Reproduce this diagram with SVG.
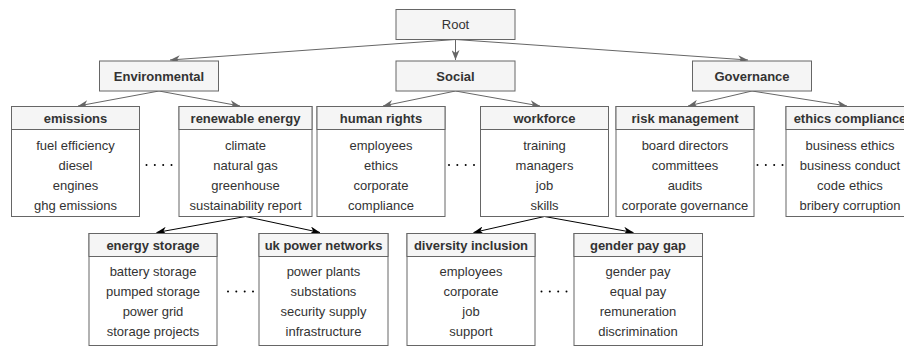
<svg xmlns="http://www.w3.org/2000/svg" width="904" height="347" viewBox="0 0 904 347">
<style>
.hd{fill:#f5f5f5;stroke:#666;stroke-width:1}
.bd{fill:#fff;stroke:#666;stroke-width:1}
text{font-family:"Liberation Sans",Arial,sans-serif;font-size:13px;fill:#333;text-anchor:middle}
.b{font-weight:bold}
.g{stroke:#666;stroke-width:1;fill:none;marker-end:url(#ag)}
.k{stroke:#000;stroke-width:1;fill:none;marker-end:url(#ak)}
.dots circle{fill:#444}
</style>
<defs>
<marker id="ag" viewBox="0 0 10 8" refX="10" refY="4" markerWidth="10" markerHeight="8" markerUnits="userSpaceOnUse" orient="auto"><path d="M0,0 L10,4 L0,8 L3,4 z" fill="#666"/></marker>
<marker id="ak" viewBox="0 0 10 8" refX="10" refY="4" markerWidth="10" markerHeight="8" markerUnits="userSpaceOnUse" orient="auto"><path d="M0,0 L10,4 L0,8 L3,4 z" fill="#000"/></marker>
<g id="dot4"><circle cx="-12.5" cy="0" r="1"/><circle cx="-4.2" cy="0" r="1"/><circle cx="4.2" cy="0" r="1"/><circle cx="12.5" cy="0" r="1"/></g>
</defs>
<g id="connectors">
<path class="g" d="M455.5,39.5 L170,60"/>
<path class="g" d="M455.5,39.5 L455.5,60"/>
<path class="g" d="M455.5,39.5 L748,60"/>
<path class="g" d="M159,91 L78,106"/>
<path class="g" d="M159,91 L240,106"/>
<path class="g" d="M455.5,91 L383,106"/>
<path class="g" d="M455.5,91 L540,106"/>
<path class="g" d="M752,91 L688,106"/>
<path class="g" d="M752,91 L847,106"/>
<path class="k" d="M245.5,216.5 L156.5,232.5"/>
<path class="k" d="M245.5,216.5 L320,232.5"/>
<path class="k" d="M544.5,216.5 L473.5,232.5"/>
<path class="k" d="M544.5,216.5 L633.5,232.5"/>
</g>
<g id="root"><rect class="hd" x="396" y="9.5" width="119" height="30"/><text x="455.5" y="29">Root</text></g>
<g id="environmental"><rect class="hd" x="99.5" y="61" width="119" height="30"/><text class="b" x="159" y="80.5">Environmental</text></g>
<g id="social"><rect class="hd" x="396" y="61" width="119" height="30"/><text class="b" x="455.5" y="80.5">Social</text></g>
<g id="governance"><rect class="hd" x="692.5" y="61" width="119" height="30"/><text class="b" x="752" y="80.5">Governance</text></g>

<g id="emissions"><rect class="bd" x="11.5" y="106.5" width="128" height="110"/><rect class="hd" x="11.5" y="106.5" width="128" height="23"/>
<text class="b" x="75.5" y="122.5">emissions</text><text x="75.5" y="149.5">fuel efficiency</text><text x="75.5" y="169.5">diesel</text><text x="75.5" y="189.5">engines</text><text x="75.5" y="209.5">ghg emissions</text></g>
<g id="renewable_energy"><rect class="bd" x="179" y="106.5" width="133" height="110"/><rect class="hd" x="179" y="106.5" width="133" height="23"/>
<text class="b" x="245.5" y="122.5">renewable energy</text><text x="245.5" y="149.5">climate</text><text x="245.5" y="169.5">natural gas</text><text x="245.5" y="189.5">greenhouse</text><text x="245.5" y="209.5">sustainability report</text></g>
<g id="human_rights"><rect class="bd" x="317" y="106.5" width="128" height="110"/><rect class="hd" x="317" y="106.5" width="128" height="23"/>
<text class="b" x="381" y="122.5">human rights</text><text x="381" y="149.5">employees</text><text x="381" y="169.5">ethics</text><text x="381" y="189.5">corporate</text><text x="381" y="209.5">compliance</text></g>
<g id="workforce"><rect class="bd" x="480.5" y="106.5" width="128" height="110"/><rect class="hd" x="480.5" y="106.5" width="128" height="23"/>
<text class="b" x="544.5" y="122.5">workforce</text><text x="544.5" y="149.5">training</text><text x="544.5" y="169.5">managers</text><text x="544.5" y="189.5">job</text><text x="544.5" y="209.5">skills</text></g>
<g id="risk_management"><rect class="bd" x="616" y="106.5" width="138" height="110"/><rect class="hd" x="616" y="106.5" width="138" height="23"/>
<text class="b" x="685" y="122.5">risk management</text><text x="685" y="149.5">board directors</text><text x="685" y="169.5">committees</text><text x="685" y="189.5">audits</text><text x="685" y="209.5">corporate governance</text></g>
<g id="ethics_compliance"><rect class="bd" x="786" y="106.5" width="128" height="110"/><rect class="hd" x="786" y="106.5" width="128" height="23"/>
<text class="b" x="850" y="122.5">ethics compliance</text><text x="850" y="149.5">business ethics</text><text x="850" y="169.5">business conduct</text><text x="850" y="189.5">code ethics</text><text x="850" y="209.5">bribery corruption</text></g>

<g id="energy_storage"><rect class="bd" x="89" y="233.5" width="128" height="112"/><rect class="hd" x="89" y="233.5" width="128" height="23"/>
<text class="b" x="153" y="249.5">energy storage</text><text x="153" y="276">battery storage</text><text x="153" y="296">pumped storage</text><text x="153" y="316">power grid</text><text x="153" y="336">storage projects</text></g>
<g id="uk_power_networks"><rect class="bd" x="259" y="233.5" width="129" height="112"/><rect class="hd" x="259" y="233.5" width="129" height="23"/>
<text class="b" x="323.5" y="249.5">uk power networks</text><text x="323.5" y="276">power plants</text><text x="323.5" y="296">substations</text><text x="323.5" y="316">security supply</text><text x="323.5" y="336">infrastructure</text></g>
<g id="diversity_inclusion"><rect class="bd" x="407" y="233.5" width="128" height="112"/><rect class="hd" x="407" y="233.5" width="128" height="23"/>
<text class="b" x="471" y="249.5">diversity inclusion</text><text x="471" y="276">employees</text><text x="471" y="296">corporate</text><text x="471" y="316">job</text><text x="471" y="336">support</text></g>
<g id="gender_pay_gap"><rect class="bd" x="574" y="233.5" width="128.5" height="112"/><rect class="hd" x="574" y="233.5" width="128.5" height="23"/>
<text class="b" x="638" y="249.5">gender pay gap</text><text x="638" y="276">gender pay</text><text x="638" y="296">equal pay</text><text x="638" y="316">remuneration</text><text x="638" y="336">discrimination</text></g>

<g id="ellipses" class="dots">
<use href="#dot4" x="159" y="165"/>
<use href="#dot4" x="461.5" y="165"/>
<use href="#dot4" x="770" y="165"/>
<use href="#dot4" x="240.5" y="291.5"/>
<use href="#dot4" x="554" y="291.5"/>
</g>
</svg>
